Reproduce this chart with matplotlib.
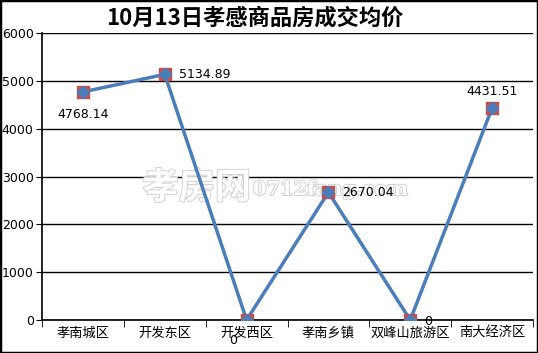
import matplotlib
matplotlib.use("Agg")
import matplotlib.pyplot as plt
import matplotlib.patheffects as pe
from matplotlib.patches import Rectangle

plt.rcParams['font.family'] = ['Noto Sans CJK SC', 'DejaVu Sans']

categories = ["孝南城区", "开发东区", "开发西区", "孝南乡镇", "双峰山旅游区", "南大经济区"]
values = [4768.14, 5134.89, 0, 2670.04, 0, 4431.51]
value_labels = ["4768.14", "5134.89", "0", "2670.04", "0", "4431.51"]
yticks = [0, 1000, 2000, 3000, 4000, 5000, 6000]
title = "10月13日孝感商品房成交均价"

W, H = 538, 353
fig = plt.figure(figsize=(W / 100, H / 100), dpi=100)
ax = fig.add_axes([42 / W, 1 - 320 / H, (533 - 42) / W, (320 - 33) / H])

x = list(range(len(categories)))
ax.plot(x, values, color="#4A7EBB", lw=2.5, zorder=3)
ax.plot(x, values, ls="none", marker="s", ms=8, mfc="#C0504D", mec="#C0504D", zorder=4)
ax.plot(x, values, ls="none", marker="D", ms=6, mfc="#4A7EBB", mec="#4A7EBB", zorder=5)

ax.set_xlim(-0.5, len(categories) - 0.5)
ax.set_ylim(0, 6000)
ax.set_yticks(yticks)
ax.set_yticklabels([str(v) for v in yticks], fontsize=9, family="DejaVu Sans")
ax.yaxis.grid(True, color="black", lw=1)
ax.set_axisbelow(True)

ax.set_xticks(x)
ax.set_xticklabels(categories, fontsize=9.5)
ax.set_xticks([i + 0.5 for i in range(-1, len(categories))], minor=True)
ax.tick_params(axis="x", which="major", length=0, pad=5)
ax.tick_params(axis="x", which="minor", length=5, direction="out", color="black")
ax.tick_params(axis="y", length=4, direction="out", pad=2, color="black")
for s in ["top", "right"]:
    ax.spines[s].set_visible(False)
for s in ["left", "bottom"]:
    ax.spines[s].set_color("black")
    ax.spines[s].set_linewidth(1.2)

# data labels (offsets in points)
offsets = [(0, -16, "center"), (10, 0, "left"), (-10, -15, "center"),
           (10, 0, "left"), (10, -1, "left"), (0, 12, "center")]
for xi, v, lab, (dx, dy, ha) in zip(x, values, value_labels, offsets):
    ax.annotate(lab, (xi, v), xytext=(dx, dy), textcoords="offset points",
                ha=ha, va="center", fontsize=9, family="DejaVu Sans", zorder=6)

# watermark (below the series and labels)
wm = ax.text(251 / W, 1 - 188 / H, "孝房网", transform=fig.transFigure, fontsize=26,
             color="white", ha="right", va="center", fontweight="bold", zorder=2)
wm.set_path_effects([pe.withStroke(linewidth=1.3, foreground="#D0D0D0")])
wm2 = ax.text(253 / W, 1 - 190 / H, "0712fang.com", transform=fig.transFigure, fontsize=14,
              color="white", ha="left", va="center", family="DejaVu Serif",
              fontweight="bold", zorder=2)
wm2.set_path_effects([pe.withStroke(linewidth=1.3, foreground="#D0D0D0")])

fig.text(255 / W, 1 - 18 / H, title, fontsize=16, fontweight="bold", ha="center",
         va="center", color="black")

fig.patches.append(Rectangle((0, 0), 1, 1, transform=fig.transFigure, fill=False,
                             edgecolor="black", lw=2.5, zorder=10))

fig.savefig("out.png", dpi=100)
